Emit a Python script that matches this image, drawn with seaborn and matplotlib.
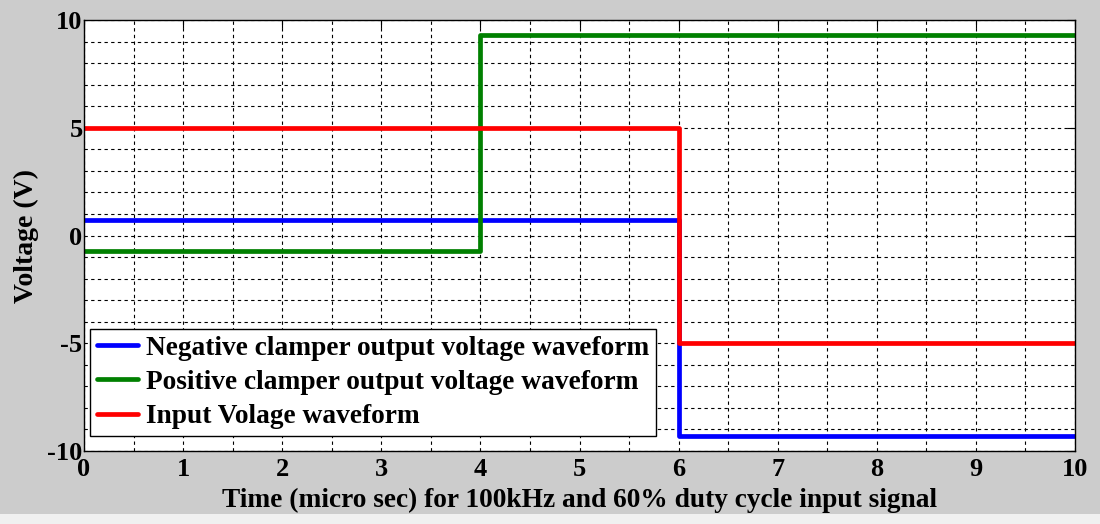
import matplotlib
matplotlib.use("Agg")
import matplotlib.pyplot as plt
import seaborn as sns
import pandas as pd
from matplotlib.patches import Rectangle

# step waveform corners (time in micro sec, voltage in V)
t = [0, 4, 6, 10]
neg_clamp = [0.7, 0.7, -9.3, -9.3]
pos_clamp = [-0.7, 9.3, 9.3, 9.3]
v_in = [5, 5, -5, -5]

labels = ["Negative clamper output voltage waveform",
          "Positive clamper output voltage waveform",
          "Input Volage waveform"]
colors = ["#0000ff", "#008000", "#ff0000"]

x_ticks = list(range(0, 11))
y_ticks = [-10, -5, 0, 5, 10]

sns.set_style("white")
plt.rcParams['font.family'] = ['Liberation Serif', 'DejaVu Serif']
plt.rcParams['font.weight'] = 'bold'
plt.rcParams['axes.unicode_minus'] = False
plt.rcParams['text.color'] = 'black'
plt.rcParams['axes.labelcolor'] = 'black'
plt.rcParams['xtick.color'] = 'black'
plt.rcParams['ytick.color'] = 'black'

fig = plt.figure(figsize=(11, 5.24), dpi=100, facecolor="#cccccc")
ax = fig.add_axes([84 / 1100, 1 - 451 / 524, 991 / 1100, 431 / 524])
ax.set_facecolor("white")

for ys, lab, c in zip([neg_clamp, pos_clamp, v_in], labels, colors):
    df = pd.DataFrame({"t": t, "v": ys})
    sns.lineplot(data=df, x="t", y="v", ax=ax, color=c, lw=3.4,
                 drawstyle="steps-post", label=lab, sort=False)

ax.set_xlim(0, 10)
ax.set_ylim(-10, 10)
ax.set_xticks(x_ticks)
ax.set_yticks(y_ticks)
ax.set_xticks([i + 0.5 for i in range(10)], minor=True)
ax.set_yticks([y for y in range(-10, 11) if y % 5 != 0], minor=True)
ax.tick_params(which="both", direction="in", top=True, right=True,
               labelsize=19, length=6, width=0.8, color="black", pad=1)
ax.tick_params(axis="x", pad=5)
ax.tick_params(which="minor", length=0)
ax.grid(True, which="both", color="black", linestyle=(0, (3, 3)), lw=0.8)
for s in ax.spines.values():
    s.set_color("black")
    s.set_linewidth(1)

ax.set_xlabel("Time (micro sec) for 100kHz and 60% duty cycle input signal",
              fontsize=19.7, fontweight="bold", labelpad=5)
ax.set_ylabel("Voltage (V)", fontsize=20, fontweight="bold", labelpad=6)

leg = ax.legend(loc="lower left", bbox_to_anchor=(6 / 991, 15 / 431),
                borderaxespad=0, frameon=True, fancybox=False,
                handlelength=1.5, handletextpad=0.3, borderpad=0.25,
                labelspacing=0.33,
                prop={"weight": "bold", "size": 19.7})
leg.get_frame().set_edgecolor("black")
leg.get_frame().set_linewidth(1)
leg.get_frame().set_alpha(1)

fig.patches.append(Rectangle((0, 0), 1, 10 / 524, transform=fig.transFigure,
                             facecolor="#f0f0f0", edgecolor="none"))

fig.savefig("out.png", dpi=100, facecolor=fig.get_facecolor())
